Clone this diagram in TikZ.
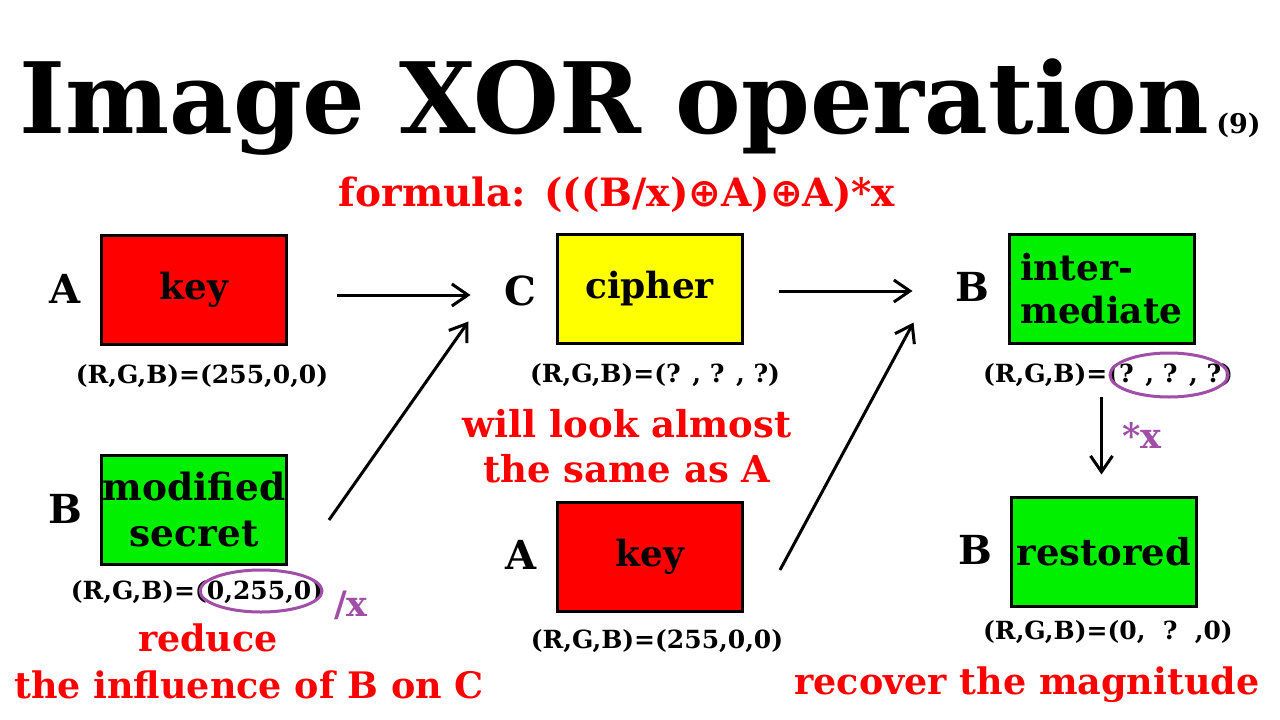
\documentclass[tikz,border=0pt]{standalone}
\usepackage{fontspec}
\setmainfont{DejaVu Serif}
\newfontfamily\symfnt{DejaVu Sans}
\usetikzlibrary{arrows.meta,shapes.geometric}
\definecolor{boxred}{RGB}{255,0,0}
\definecolor{boxyellow}{RGB}{255,255,0}
\definecolor{boxgreen}{RGB}{0,240,0}
\definecolor{purp}{RGB}{160,78,168}
\definecolor{txtred}{RGB}{255,0,0}
\newcommand{\fs}[1]{\bfseries\fontsize{#1}{#1}\selectfont}
\newcommand{\fsl}[2]{\bfseries\fontsize{#1}{#2}\selectfont}
\tikzset{
  stepbox/.style={draw, line width=3pt, minimum width=185pt, minimum height=109pt, inner sep=0pt, font=\fs{36}},
  letter/.style={font=\fs{40}, inner sep=0pt},
  rgb/.style={font=\fs{25}, inner sep=0pt},
  redtxt/.style={font=\fs{36.5}, text=txtred, inner sep=0pt},
  purtxt/.style={font=\fs{35}, text=purp, inner sep=0pt},
  ring/.style={ellipse, draw=purp, line width=3pt, inner sep=0pt},
  arr/.style={line width=3pt, -{Straight Barb[length=16pt,width=22pt,line width=3pt]}}
}
\begin{document}
\begin{tikzpicture}[x=1pt,y=-1pt]
\useasboundingbox (0,0) rectangle (1280,720);
\fill[white] (0,0) rectangle (1280,720);
% title
\node[anchor=base, inner sep=0pt, font=\fs{98.5}] (title) at (614,133) {Image XOR operation};
\node[anchor=base west, inner sep=0pt, font=\fs{27}] (nine) at ([xshift=7pt]title.base east) {(9)};
\node[anchor=base, redtxt, font=\fs{39}] (formula) at (617,206) {formula: (((B/x){\symfnt ⊕}A){\symfnt ⊕}A)*x};
% boxes
\node[stepbox, fill=boxred] (key1) at (194,290) {key};
\node[stepbox, fill=boxyellow] (cipher) at (649.5,288.5) {cipher};
\node[stepbox, fill=boxgreen, align=left, text width=163pt, font=\fsl{36}{43}] (inter) at (1101.5,288.5) {inter-\\mediate};
\node[stepbox, fill=boxgreen, align=center, font=\fsl{37.5}{46}] (mod) at (194,509.5) {modified\\secret};
\node[stepbox, fill=boxred] (key2) at (650,557) {key};
\node[stepbox, fill=boxgreen, font=\fs{37}] (rest) at (1104,551.5) {restored};
% letters
\node[letter] (lA1) at (65,289) {A};
\node[letter] (lC) at (520,291) {C};
\node[letter] (lB1) at (972,287) {B};
\node[letter] (lB2) at (65,509) {B};
\node[letter] (lA2) at (521,555) {A};
\node[letter] (lB3) at (975,550) {B};
% rgb labels
\node[rgb] (rgbK1) at (202,376) {(R,G,B)=(255,0,0)};
\node[rgb] (rgbC) at (655,375) {(R,G,B)=(? , ? , ?)};
\node[rgb] (rgbI) at (1108,375) {(R,G,B)=(? , ? , ?)};
\node[rgb] (rgbM) at (197,592) {(R,G,B)=(0,255,0)};
\node[rgb] (rgbK2) at (657,641) {(R,G,B)=(255,0,0)};
\node[rgb] (rgbR) at (1108,632) {(R,G,B)=(0,\ \ ?\ \ ,0)};
% rings
\node[ring, minimum width=122pt, minimum height=42pt] (ringM) at (261,591) {};
\node[ring, minimum width=118pt, minimum height=44pt] (ringI) at (1169,375) {};
% purple operators
\node[purtxt] (divx) at (351,605) {/x};
\node[purtxt] (mulx) at (1142,436) {*x};
% red notes
\node[redtxt, align=center, font=\fsl{37}{45}] (note1) at (627,446) {will look almost\\the same as A};
\node[redtxt] (red1) at (208,638) {reduce};
\node[redtxt] (red2) at (249,685) {the influence of B on C};
\node[redtxt] (red3) at (1027,685) {recover the magnitude};
% arrows
\draw[arr] ([xshift=49pt,yshift=-5pt]key1.east) -- ([xshift=-85pt,yshift=-6.5pt]cipher.west);
\draw[arr] ([xshift=35pt,yshift=-2.5pt]cipher.east) -- ([xshift=-95pt,yshift=-2.5pt]inter.west);
\draw[arr] ([xshift=41pt,yshift=-10.5pt]mod.east) -- ([xshift=-87pt,yshift=23pt]cipher.south west);
\draw[arr] ([xshift=36pt,yshift=-13pt]key2.east) -- ([xshift=-94pt,yshift=22pt]inter.south west);
\draw[arr] ([yshift=-52pt]inter.south) -- ([yshift=-130pt]inter.south);
\end{tikzpicture}
\end{document}
